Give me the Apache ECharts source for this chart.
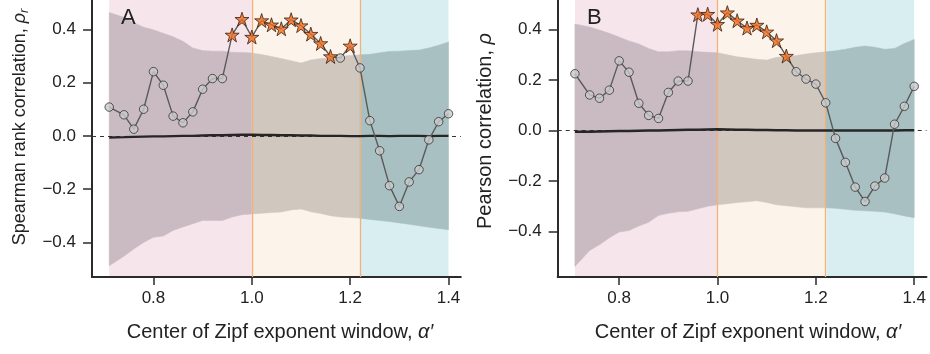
<!DOCTYPE html>
<html><head><meta charset="utf-8">
<script src="https://cdn.jsdelivr.net/npm/echarts@6/dist/echarts.min.js"></script>
<style>html,body{margin:0;padding:0;background:#fff}#c{width:930px;height:354px}</style>
</head><body><div id="c"></div>
<script>
// ---- data ----
const xs = [0.71,0.74,0.76,0.78,0.80,0.82,0.84,0.86,0.88,0.90,0.92,0.94,0.96,0.98,1.00,1.02,1.04,1.06,1.08,1.10,1.12,1.14,1.16,1.18,1.20,1.22,1.24,1.26,1.28,1.30,1.32,1.34,1.36,1.38,1.40];
const rhoA = [0.108,0.079,0.025,0.100,0.241,0.190,0.074,0.049,0.090,0.175,0.215,0.215,0.379,0.438,0.371,0.433,0.417,0.402,0.436,0.414,0.382,0.347,0.298,0.292,0.338,0.255,0.057,-0.056,-0.187,-0.265,-0.173,-0.127,-0.015,0.053,0.083];
const sigA = [0,0,0,0,0,0,0,0,0,0,0,0,1,1,1,1,1,1,1,1,1,1,1,0,1,0,0,0,0,0,0,0,0,0,0];
const rhoB = [0.225,0.141,0.128,0.160,0.276,0.231,0.108,0.060,0.048,0.151,0.196,0.196,0.459,0.461,0.421,0.467,0.435,0.406,0.418,0.391,0.356,0.295,0.233,0.204,0.184,0.110,-0.031,-0.126,-0.224,-0.281,-0.220,-0.188,0.025,0.096,0.175];
const sigB = [0,0,0,0,0,0,0,0,0,0,0,0,1,1,1,1,1,1,1,1,1,1,0,0,0,0,0,0,0,0,0,0,0,0,0];
const nullHiA = [0.463,0.445,0.425,0.408,0.398,0.385,0.372,0.355,0.330,0.320,0.318,0.318,0.314,0.313,0.311,0.305,0.298,0.290,0.282,0.273,0.285,0.290,0.293,0.298,0.302,0.304,0.306,0.312,0.317,0.318,0.320,0.322,0.330,0.340,0.352];
const nullLoA = [-0.488,-0.452,-0.425,-0.400,-0.381,-0.376,-0.355,-0.342,-0.330,-0.318,-0.318,-0.318,-0.305,-0.296,-0.293,-0.291,-0.288,-0.286,-0.278,-0.275,-0.285,-0.292,-0.300,-0.305,-0.307,-0.309,-0.314,-0.318,-0.322,-0.327,-0.332,-0.338,-0.343,-0.348,-0.353];
const nullHiB = [0.422,0.410,0.398,0.385,0.370,0.355,0.343,0.325,0.312,0.312,0.316,0.316,0.312,0.310,0.308,0.300,0.292,0.287,0.282,0.279,0.290,0.292,0.297,0.303,0.308,0.312,0.316,0.322,0.330,0.335,0.330,0.322,0.325,0.345,0.361];
const nullLoB = [-0.538,-0.475,-0.452,-0.425,-0.402,-0.396,-0.378,-0.363,-0.336,-0.328,-0.322,-0.320,-0.310,-0.300,-0.294,-0.290,-0.285,-0.282,-0.278,-0.285,-0.294,-0.298,-0.302,-0.306,-0.306,-0.306,-0.308,-0.312,-0.316,-0.318,-0.320,-0.323,-0.330,-0.338,-0.345];
const nullMeanA = [-0.006,-0.005,-0.004,-0.003,-0.002,-0.002,-0.001,0,0,0.001,0.002,0.002,0.003,0.004,0.004,0.003,0.003,0.002,0.002,0.001,0.001,0,0,0,-0.001,-0.001,0,0,-0.001,0,0,0,-0.001,0,0];
const nullMeanB = [-0.005,-0.005,-0.004,-0.003,-0.002,-0.002,-0.001,0,0,0.001,0.002,0.003,0.003,0.004,0.005,0.004,0.003,0.003,0.002,0.002,0.001,0.001,0,0,0,0,0,0,0,0,0,0,0,0.001,0.001];
const regionEdges = [0.71, 1.0, 1.222, 1.40];
const xTicks = [0.8, 1.0, 1.2, 1.4];
const yTicks = [-0.4, -0.2, 0.0, 0.2, 0.4];
const panelLetters = ['A', 'B'];
const yTitles = ['Spearman rank correlation, {i|ρ}{s|r}', 'Pearson correlation, {i|ρ}'];
const xTitle = 'Center of Zipf exponent window, {i|α′}';

// ---- styling ----
const regionBg = ['#f6e5eb', '#fcf3ea', '#d8eef0'];
const regionBand = ['#cabbc2', '#d0c7be', '#a9c0c2'];
const FONT = 'Liberation Sans, Arial, Helvetica, sans-serif';
const grids = [
  {left: 92, top: 0, width: 368.8, height: 277},
  {left: 557.7, top: 0, width: 368.8, height: 277}
];
const yRanges = [[-0.53, 0.51], [-0.58, 0.517]];
const starPath = 'path://M50,0 L61.2,34.5 L97.6,34.5 L68.2,55.9 L79.4,90.5 L50,69.1 L20.6,90.5 L31.8,55.9 L2.4,34.5 L38.8,34.5 Z';

const fmtY = v => (v < -1e-9 ? '\u2212' + Math.abs(v).toFixed(1) : Math.abs(v).toFixed(1));

const xAxes = [], yAxes = [], series = [], graphics = [];
const panels = [
  {rho: rhoA, sig: sigA, hi: nullHiA, lo: nullLoA, mean: nullMeanA},
  {rho: rhoB, sig: sigB, hi: nullHiB, lo: nullLoB, mean: nullMeanB}
];
const segs = [[0, 14], [14, 25], [25, 34]];
panels.forEach((p, k) => {
  xAxes.push({
    gridIndex: k, type: 'value', min: 0.675, max: 1.425,
    axisLine: {show: true, onZero: false, lineStyle: {color: '#2b2b2b', width: 2}},
    axisTick: {show: true, customValues: xTicks, length: 8, lineStyle: {color: '#2b2b2b', width: 1.5}},
    axisLabel: {customValues: xTicks, formatter: v => v.toFixed(1), fontSize: 17, color: '#222', fontFamily: FONT, margin: 13},
    splitLine: {show: false}
  });
  yAxes.push({
    gridIndex: k, type: 'value', min: yRanges[k][0], max: yRanges[k][1],
    axisLine: {show: true, onZero: false, lineStyle: {color: '#2b2b2b', width: 2}},
    axisTick: {show: true, customValues: yTicks, length: 9, lineStyle: {color: '#2b2b2b', width: 1.5}},
    axisLabel: {customValues: yTicks, formatter: fmtY, fontSize: 17, color: '#222', fontFamily: FONT, margin: 16},
    splitLine: {show: false}
  });
  // background regions
  series.push({
    type: 'line', xAxisIndex: k, yAxisIndex: k, data: [], z: 0, silent: true,
    markArea: {silent: true, z: 0, data: regionBg.map((c, i) => [
      {xAxis: regionEdges[i], itemStyle: {color: c}}, {xAxis: regionEdges[i + 1]}
    ])}
  });
  // null band (custom polygons through the axis scales), one per region
  series.push({
    type: 'custom', xAxisIndex: k, yAxisIndex: k, z: 2, silent: true, clip: true,
    data: segs.map((s, i) => [xs[s[0]], 0, i]),
    renderItem: (params, api) => {
      const i = api.value(2);
      const s = segs[i];
      const pts = [];
      for (let j = s[0]; j <= s[1]; j++) pts.push(api.coord([xs[j], p.hi[j]]));
      for (let j = s[1]; j >= s[0]; j--) pts.push(api.coord([xs[j], p.lo[j]]));
      return {type: 'polygon', shape: {points: pts}, style: {fill: regionBand[i], stroke: regionBand[i], lineWidth: 0.5}};
    }
  });
  // vertical region lines + zero dashed line
  series.push({
    type: 'line', xAxisIndex: k, yAxisIndex: k, data: [], z: 3, silent: true,
    markLine: {silent: true, symbol: 'none', z: 3, label: {show: false},
      data: [
        {xAxis: regionEdges[1], lineStyle: {color: '#f2b27c', width: 1.3, type: 'solid'}},
        {xAxis: regionEdges[2], lineStyle: {color: '#f2b27c', width: 1.3, type: 'solid'}},
        {yAxis: 0, lineStyle: {color: '#333', width: 1, type: [4, 4]}}
      ]}
  });
  // null mean
  series.push({
    type: 'line', xAxisIndex: k, yAxisIndex: k, z: 4, silent: true, symbol: 'none',
    lineStyle: {color: '#262626', width: 2.4},
    data: xs.map((x, j) => [x, p.mean[j]])
  });
  // observed correlation line
  series.push({
    type: 'line', xAxisIndex: k, yAxisIndex: k, z: 5, silent: true, symbol: 'none',
    lineStyle: {color: '#5a5a5a', width: 1.4},
    data: xs.map((x, j) => [x, p.rho[j]])
  });
  series.push({
    type: 'scatter', xAxisIndex: k, yAxisIndex: k, z: 6, silent: true,
    symbol: 'circle', symbolSize: 8.5,
    itemStyle: {color: '#c9c9c9', borderColor: '#333', borderWidth: 1},
    data: xs.map((x, j) => [x, p.rho[j]]).filter((d, j) => !p.sig[j])
  });
  series.push({
    type: 'scatter', xAxisIndex: k, yAxisIndex: k, z: 7, silent: true,
    symbol: starPath, symbolSize: 14,
    itemStyle: {color: '#f26b1d', borderColor: '#3a2010', borderWidth: 1},
    data: xs.map((x, j) => [x, p.rho[j]]).filter((d, j) => p.sig[j])
  });
});

const richT = (fs) => ({
  i: {fontStyle: 'italic', fontSize: fs, fontFamily: FONT, fill: '#222'},
  s: {fontStyle: 'italic', fontSize: Math.round(fs * 0.7), fontFamily: FONT, fill: '#222', padding: [8, 0, 0, 0]}
});
graphics.push(
  {type: 'text', x: 121, y: 7, z: 100, style: {text: panelLetters[0], font: '22px ' + FONT, fill: '#222'}},
  {type: 'text', x: 587, y: 7, z: 100, style: {text: panelLetters[1], font: '22px ' + FONT, fill: '#222'}},
  {type: 'text', x: 20, y: 127, rotation: Math.PI / 2, z: 100,
    style: {text: yTitles[0], fontSize: 18, fontFamily: FONT, fill: '#222', align: 'center', verticalAlign: 'middle', rich: richT(18)}},
  {type: 'text', x: 485, y: 131, rotation: Math.PI / 2, z: 100,
    style: {text: yTitles[1], fontSize: 20, fontFamily: FONT, fill: '#222', align: 'center', verticalAlign: 'middle', rich: richT(20)}},
  {type: 'text', x: 280, y: 332, z: 100,
    style: {text: xTitle, fontSize: 20, fontFamily: FONT, fill: '#222', align: 'center', verticalAlign: 'middle', rich: richT(20)}},
  {type: 'text', x: 748, y: 332, z: 100,
    style: {text: xTitle, fontSize: 20, fontFamily: FONT, fill: '#222', align: 'center', verticalAlign: 'middle', rich: richT(20)}}
);

const chart = echarts.init(document.getElementById('c'), null, {renderer: 'canvas'});
chart.setOption({
  animation: false,
  backgroundColor: '#ffffff',
  textStyle: {fontFamily: FONT},
  grid: grids,
  xAxis: xAxes,
  yAxis: yAxes,
  series: series,
  graphic: graphics
});
</script></body></html>
